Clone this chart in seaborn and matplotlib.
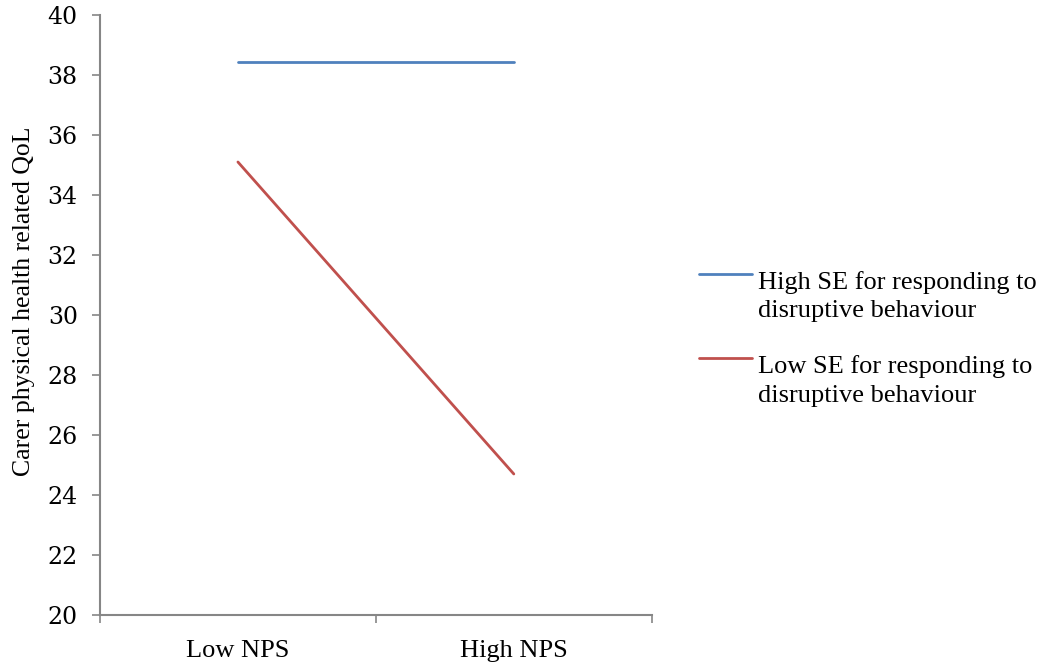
import pandas as pd
import numpy as np
import matplotlib
matplotlib.use("Agg")
import matplotlib.pyplot as plt
import seaborn as sns
from matplotlib.legend_handler import HandlerLine2D

# === Data ===
nps_levels = ["Low NPS", "High NPS"]
high_se = [38.45, 38.45]
low_se = [35.1, 24.7]
series_names = ["High SE for responding to\ndisruptive behaviour",
                "Low SE for responding to\ndisruptive behaviour"]
y_ticks = list(range(20, 41, 2))

df = pd.DataFrame({
    "NPS": nps_levels * 2,
    "QoL": high_se + low_se,
    "Group": [series_names[0]] * 2 + [series_names[1]] * 2,
})

# === Plot setup ===
sns.set_theme(style="white")
plt.rcParams["font.family"] = ["Liberation Serif", "DejaVu Serif"]
plt.rcParams["text.color"] = "black"
plt.rcParams["xtick.labelcolor"] = "black"
plt.rcParams["ytick.labelcolor"] = "black"
plt.rcParams["axes.labelcolor"] = "black"

fig = plt.figure(figsize=(10.47, 6.67), dpi=100)
ax = fig.add_axes([0.0955, 0.078, 0.527, 0.8995])

sns.lineplot(data=df, x="NPS", y="QoL", hue="Group",
             palette=["#4F81BD", "#C0504D"], linewidth=2.0, ax=ax)

axis_grey = "#868686"
ax.set_xlim(-0.5, 1.5)
ax.set_ylim(20, 40)
ax.set_xticks([-0.5, 0.5, 1.5])
ax.set_xticklabels([])
ax.set_xticks([0, 1], minor=True)
ax.set_xticklabels(nps_levels, minor=True, fontsize=19)
ax.tick_params(axis="x", which="major", length=6, width=1.2, color=axis_grey, direction="out", bottom=True)
ax.tick_params(axis="x", which="minor", length=0, pad=18)
ax.set_yticks(y_ticks)
ax.set_yticklabels([str(t) for t in y_ticks], fontsize=17, family="DejaVu Serif")
ax.tick_params(axis="y", length=6, width=1.2, color=axis_grey, direction="out", left=True, pad=10)

for side in ["top", "right"]:
    ax.spines[side].set_visible(False)
for side in ["left", "bottom"]:
    ax.spines[side].set_color(axis_grey)
    ax.spines[side].set_linewidth(1.5)

ax.set_xlabel("")
ax.set_ylabel("Carer physical health related QoL", fontsize=18.5)
ax.yaxis.set_label_coords(-0.117, 0.523)


class TopLine(HandlerLine2D):
    # Excel puts the legend key at the top of the label, not its middle
    def create_artists(self, legend, orig_handle, xdescent, ydescent,
                       width, height, fontsize, trans):
        arts = super().create_artists(legend, orig_handle, xdescent, ydescent,
                                      width, height, fontsize, trans)
        for a in arts:
            a.set_ydata(np.asarray(a.get_ydata()) + 0.84 * fontsize)
        return arts


handles, labels = ax.get_legend_handles_labels()
leg = fig.legend(handles, labels, loc="upper left", bbox_to_anchor=(0.658, 0.610),
                 frameon=False, fontsize=19, handlelength=2.0, handletextpad=0.2,
                 labelspacing=1.25, borderaxespad=0,
                 handler_map={plt.Line2D: TopLine()})
for t in leg.get_texts():
    t.set_linespacing(1.4)
ax.get_legend().remove()

plt.savefig("out.png", dpi=100)
plt.close()
